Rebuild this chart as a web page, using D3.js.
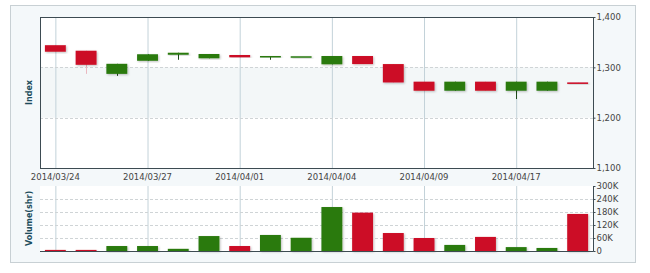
<!DOCTYPE html>
<html>
<head>
<meta charset="utf-8">
<script src="https://cdn.jsdelivr.net/npm/d3@7"></script>
<style>
  body { margin: 0; background: #fff; }
  text { font-family: "DejaVu Sans", Verdana, sans-serif; }
</style>
</head>
<body>
<div id="chart"></div>
<script>
// trading days shown on the chart
const dates = ["2014/03/24","2014/03/25","2014/03/26","2014/03/27","2014/03/28","2014/03/31",
               "2014/04/01","2014/04/02","2014/04/03","2014/04/04","2014/04/07","2014/04/08",
               "2014/04/09","2014/04/10","2014/04/16","2014/04/17","2014/04/18","2014/04/21"]
const opens  = [1344, 1333, 1287, 1313, 1325, 1318, 1324.5, 1322, 1322, 1306, 1322.5, 1306.5, 1271.5, 1253.5, 1271.5, 1253.5, 1253.5, 1270]
const highs  = [1344, 1333, 1307, 1326, 1329, 1326.5, 1324.5, 1322.5, 1322, 1322.5, 1322.5, 1306.5, 1271.5, 1271.5, 1271.5, 1271.5, 1271.5, 1270]
const lows   = [1331, 1287, 1283, 1313, 1315, 1318, 1320, 1315, 1322, 1306, 1306.5, 1270, 1253.5, 1253.5, 1253.5, 1237, 1253.5, 1269.5]
const closes = [1331, 1305, 1307, 1326, 1329, 1326.5, 1320, 1322.5, 1322, 1322.5, 1306.5, 1270, 1253.5, 1271.5, 1253.5, 1271.5, 1271.5, 1269.5]
const volumes = [5000, 5000, 23000, 23000, 10000, 69000, 23000, 74000, 61000, 203000, 177000, 83000, 60000, 28000, 65000, 18000, 14000, 171000]

const priceTicks = [1100, 1200, 1300, 1400]
const volumeTicks = [0, 60000, 120000, 180000, 240000, 300000]
const labelEvery = 3

const width = 650, height = 273
const red = "#cc0a25", green = "#2a7a10"
const left = 40, right = 593
const pTop = 17, pBottom = 168
const vTop = 186, vBottom = 251

let svg = d3.select("#chart").append("svg")
    .attr("width", width)
    .attr("height", height)

let defs = svg.append("defs")
let shadow = defs.append("filter").attr("id", "shadow")
    .attr("x", "-20%").attr("y", "-20%").attr("width", "150%").attr("height", "150%")
shadow.append("feDropShadow")
    .attr("dx", 1).attr("dy", 1).attr("stdDeviation", 1)
    .attr("flood-color", "#000").attr("flood-opacity", 0.25)

let x = d3.scaleBand().domain(dates).range([left, right]).paddingInner(0.32).paddingOuter(0.16)
let y = d3.scaleLinear().domain([1100, 1400]).range([pBottom, pTop])
let yv = d3.scaleLinear().domain([0, 300000]).range([vBottom, vTop])
let cx = d => x(d) + x.bandwidth() / 2

// outer frame
svg.append("rect")
    .attr("x", 10.5).attr("y", 5.5).attr("width", 625).attr("height", 257)
    .style("fill", "#f4f8fa").style("stroke", "#c8d0d4")

// price panel background, alternating bands
svg.append("rect")
    .attr("x", left).attr("y", pTop).attr("width", right - left).attr("height", pBottom - pTop)
    .style("fill", "#fff")
svg.append("rect")
    .attr("x", left).attr("y", y(1300)).attr("width", right - left).attr("height", y(1200) - y(1300))
    .style("fill", "#f3f7f8")

// volume panel background
svg.append("rect")
    .attr("x", left).attr("y", vTop).attr("width", right - left).attr("height", vBottom - vTop)
    .style("fill", "#fff")

let gridDates = dates.filter((d, i) => i % labelEvery == 0)

// vertical grid
svg.append("g").selectAll("line")
    .data(gridDates).enter().append("line")
    .attr("x1", d => cx(d) + 0.5).attr("x2", d => cx(d) + 0.5)
    .attr("y1", pTop).attr("y2", pBottom)
    .style("stroke", "#c3d2d9")
svg.append("g").selectAll("line")
    .data(gridDates).enter().append("line")
    .attr("x1", d => cx(d) + 0.5).attr("x2", d => cx(d) + 0.5)
    .attr("y1", vTop).attr("y2", vBottom)
    .style("stroke", "#c3d2d9")

// horizontal dashed grid
svg.append("g").selectAll("line")
    .data(priceTicks.slice(1, -1)).enter().append("line")
    .attr("x1", left).attr("x2", right)
    .attr("y1", d => Math.round(y(d)) + 0.5).attr("y2", d => Math.round(y(d)) + 0.5)
    .style("stroke", "#cfd4d6").style("stroke-dasharray", "3,2")
svg.append("g").selectAll("line")
    .data(volumeTicks.slice(1, -1)).enter().append("line")
    .attr("x1", left).attr("x2", right)
    .attr("y1", d => Math.round(yv(d)) + 0.5).attr("y2", d => Math.round(yv(d)) + 0.5)
    .style("stroke", "#cfd4d6").style("stroke-dasharray", "3,2")

let candles = dates.map((d, i) => ({date: d, o: opens[i], h: highs[i], l: lows[i], c: closes[i], v: volumes[i]}))
let colorOf = d => d.c >= d.o ? green : red

// wicks (red ones come out faint in the original)
svg.append("g").selectAll("line")
    .data(candles).enter().append("line")
    .attr("x1", d => Math.round(cx(d.date)) + 0.5).attr("x2", d => Math.round(cx(d.date)) + 0.5)
    .attr("y1", d => y(d.h)).attr("y2", d => y(d.l))
    .style("stroke", d => d.c >= d.o ? "#1f4a1a" : "#eab8c0")

// bodies
svg.append("g").selectAll("rect")
    .data(candles).enter().append("rect")
    .attr("x", d => x(d.date))
    .attr("width", x.bandwidth())
    .attr("y", d => y(Math.max(d.o, d.c)))
    .attr("height", d => Math.max(1.5, Math.abs(y(d.o) - y(d.c))))
    .style("fill", colorOf)
    .attr("filter", "url(#shadow)")

// volume bars
svg.append("g").selectAll("rect")
    .data(candles).enter().append("rect")
    .attr("x", d => x(d.date))
    .attr("width", x.bandwidth())
    .attr("y", d => yv(d.v))
    .attr("height", d => vBottom - yv(d.v))
    .style("fill", colorOf)
    .attr("filter", "url(#shadow)")

// price panel border
svg.append("rect")
    .attr("x", left + 0.5).attr("y", pTop + 0.5).attr("width", right - left).attr("height", pBottom - pTop)
    .style("fill", "none").style("stroke", "#3d4b52")

// volume panel bottom + right axis line
svg.append("path")
    .attr("d", `M${left},${vBottom + 0.5}H${right + 0.5}V${vTop}`)
    .style("fill", "none").style("stroke", "#3d4b52")

// right axes
let priceAxis = svg.append("g")
    .attr("transform", `translate(${right + 0.5},0)`)
    .call(d3.axisRight(y).tickValues(priceTicks).tickSize(2).tickFormat(d3.format(",")))
let volAxis = svg.append("g")
    .attr("transform", `translate(${right + 0.5},0)`)
    .call(d3.axisRight(yv).tickValues(volumeTicks).tickSize(2).tickFormat(d => d == 0 ? "0" : (d / 1000) + "K"))
for (let ax of [priceAxis, volAxis]) {
  ax.select(".domain").remove()
  ax.selectAll(".tick line").style("stroke", "#3d4b52")
  ax.selectAll(".tick text")
    .attr("x", 3)
    .style("font-size", "8.5px")
    .style("fill", "#444")
    .style("font-family", "'DejaVu Sans', Verdana, sans-serif")
}

// date labels
svg.append("g").selectAll("text")
    .data(gridDates).enter().append("text")
    .attr("x", d => cx(d))
    .attr("y", 180)
    .text(d => d)
    .style("text-anchor", "middle")
    .style("font-size", "8.5px")
    .style("fill", "#444")

// axis titles
svg.append("text")
    .attr("transform", `translate(32,${(pTop + pBottom) / 2}) rotate(-90)`)
    .text("Index")
    .style("text-anchor", "middle")
    .style("font-size", "8px")
    .style("font-weight", "bold")
    .style("fill", "#1d4d5c")
svg.append("text")
    .attr("transform", `translate(32,${(vTop + vBottom) / 2}) rotate(-90)`)
    .text("Volume(shr)")
    .style("text-anchor", "middle")
    .style("font-size", "8px")
    .style("font-weight", "bold")
    .style("fill", "#1d4d5c")
</script>
</body>
</html>
